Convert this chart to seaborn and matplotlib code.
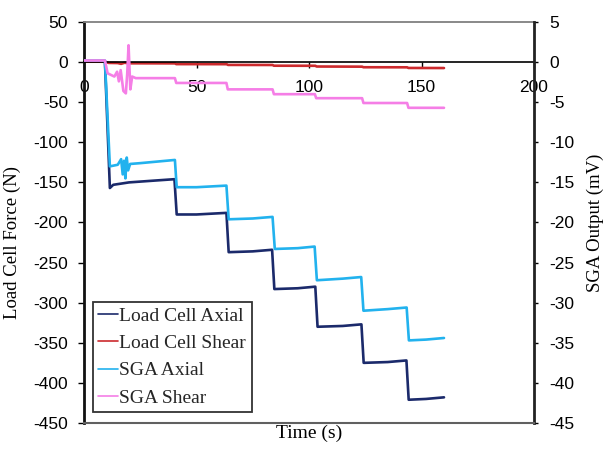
import matplotlib
matplotlib.use("Agg")
import matplotlib.pyplot as plt
import seaborn as sns
import pandas as pd

# Load cell axial force (N)
lc_axial_t = [0, 9.3, 11.5, 13, 20, 30, 40.2, 41.2, 50, 63.3, 64.3, 75, 83.6, 84.6, 95,
              102.8, 103.8, 115, 123.3, 124.3, 135, 143.3, 144.3, 152, 160]
lc_axial_v = [1, 1, -157, -153, -150, -148, -146, -190, -190, -188, -237, -236, -234,
              -283, -282, -280, -330, -329, -327, -375, -374, -372, -421, -420, -418]

# Load cell shear force (N)
lc_shear_t = [0, 9.3, 11, 15, 16.5, 18, 20, 40.4, 41, 63.4, 64, 83.8, 84.4, 102.8, 103.4,
              123.6, 124.2, 143.6, 144.2, 160]
lc_shear_v = [0.5, 0.5, -1.0, -1.2, -2.2, -0.8, -1.5, -1.6, -2.5, -2.6, -3.5, -3.6, -4.5,
              -4.6, -5.5, -5.7, -6.4, -6.5, -7.3, -7.4]

# Strain gauge axial output (mV)
sga_axial_t = [0, 9.3, 11.5, 15, 16.5, 17.2, 17.8, 18.4, 19.0, 19.6, 20.5, 25, 40.4, 41.2,
               50, 63.3, 64.3, 75, 83.8, 84.8, 95, 102.5, 103.5, 115, 123.2, 124.2, 135,
               143.4, 144.4, 152, 160]
sga_axial_v = [0.2, 0.2, -13.0, -12.8, -12.1, -14.0, -12.3, -14.5, -11.9, -13.5, -12.7,
               -12.6, -12.2, -15.6, -15.6, -15.4, -19.6, -19.5, -19.3, -23.3, -23.2, -23.0,
               -27.2, -27.0, -26.8, -31.0, -30.8, -30.6, -34.7, -34.6, -34.4]

# Strain gauge shear output (mV)
sga_shear_t = [0, 9.3, 10.5, 13.5, 14.7, 15.5, 16.3, 17.5, 18.6, 19.2, 19.8, 20.6, 21.4,
               23, 40.4, 41.0, 63.3, 63.9, 83.8, 84.4, 102.6, 103.2, 123.6, 124.2, 143.6,
               144.2, 160]
sga_shear_v = [0.2, 0.2, -1.4, -1.8, -1.2, -2.4, -1.0, -3.6, -3.9, -1.5, 2.1, -3.4, -1.8,
               -2.0, -2.0, -2.6, -2.6, -3.4, -3.4, -4.0, -4.0, -4.5, -4.5, -5.1, -5.1,
               -5.7, -5.7]

series_names = ["Load Cell Axial", "Load Cell Shear", "SGA Axial", "SGA Shear"]
series_colors = ["#1B2A6B", "#CC2A2D", "#22B2EE", "#F57EE6"]

x_ticks = [0, 50, 100, 150, 200]
left_ticks = list(range(-450, 51, 50))
right_ticks = list(range(-45, 6, 5))

sns.set_theme(style="white")
plt.rcParams["axes.unicode_minus"] = False
serif = ["Liberation Serif", "DejaVu Serif"]
sans = ["Liberation Sans", "DejaVu Sans"]

fig = plt.figure(figsize=(6.04, 4.49), dpi=100)
ax = fig.add_axes([84 / 604, 26 / 449, 450 / 604, 401 / 449])
ax2 = ax.twinx()

load = pd.concat([
    pd.DataFrame({"t": lc_axial_t, "v": lc_axial_v, "s": series_names[0]}),
    pd.DataFrame({"t": lc_shear_t, "v": lc_shear_v, "s": series_names[1]}),
])
sga = pd.concat([
    pd.DataFrame({"t": sga_axial_t, "v": sga_axial_v, "s": series_names[2]}),
    pd.DataFrame({"t": sga_shear_t, "v": sga_shear_v, "s": series_names[3]}),
])

sns.lineplot(data=load, x="t", y="v", hue="s", hue_order=series_names[:2],
             palette=series_colors[:2], sort=False, estimator=None, lw=1.9,
             legend=False, ax=ax)
sns.lineplot(data=sga, x="t", y="v", hue="s", hue_order=series_names[2:],
             palette=series_colors[2:], sort=False, estimator=None, lw=1.9,
             legend=False, ax=ax2)

ax.set_xlim(0, 200)
ax.set_ylim(-450, 50)
ax2.set_ylim(-45, 5)
ax.set_xticks(x_ticks)
ax.set_yticks(left_ticks)
ax2.set_yticks(right_ticks)

# Spines: x axis crosses at zero, grey frame top and bottom
ax.spines["bottom"].set_position(("data", 0))
ax.spines["bottom"].set_color("black")
ax.spines["bottom"].set_linewidth(1.2)
ax.spines["left"].set_color("#111111")
ax.spines["left"].set_linewidth(2.0)
ax.spines["right"].set_visible(False)
ax.spines["top"].set_color("#808080")
ax.spines["top"].set_linewidth(1.3)
for side in ["left", "top"]:
    ax2.spines[side].set_visible(False)
ax2.spines["bottom"].set_color("#606060")
ax2.spines["bottom"].set_linewidth(1.5)
ax2.spines["right"].set_color("#222222")
ax2.spines["right"].set_linewidth(2.0)

ax.tick_params(axis="x", direction="out", length=4, width=1, pad=9, colors="black",
               labelsize=12.5, bottom=True)
ax.tick_params(axis="y", direction="out", length=4.5, width=1, pad=7, colors="black",
               labelsize=12.5, left=True)
ax2.tick_params(axis="y", direction="out", length=3, width=1, pad=8, colors="black",
                labelsize=12.5, right=True)
for lab in ax.get_xticklabels() + ax.get_yticklabels() + ax2.get_yticklabels():
    lab.set_family(sans)

ax.set_xlabel("Time (s)", family=serif, fontsize=14, color="black")
ax.set_ylabel("Load Cell Force (N)", family=serif, fontsize=13.5, color="black")
ax2.set_ylabel("SGA Output (mV)", family=serif, fontsize=13.5, color="black")
ax.xaxis.set_label_coords(0.5, -0.005)
ax.yaxis.set_label_coords(-0.14, 0.45)
ax2.yaxis.set_label_coords(1.118, 0.5)

handles = [plt.Line2D([], [], color=c, lw=1.2) for c in series_colors]
leg = ax2.legend(handles, series_names, loc="lower left",
                 bbox_to_anchor=(0.02, 0.027), borderaxespad=0, frameon=True,
                 fancybox=False, edgecolor="#333333", framealpha=1,
                 prop={"family": serif, "size": 14}, handlelength=1.0,
                 handletextpad=0.08, labelspacing=0.5, borderpad=0.28)
leg.get_frame().set_linewidth(1.3)

fig.savefig("out.png", dpi=100)
